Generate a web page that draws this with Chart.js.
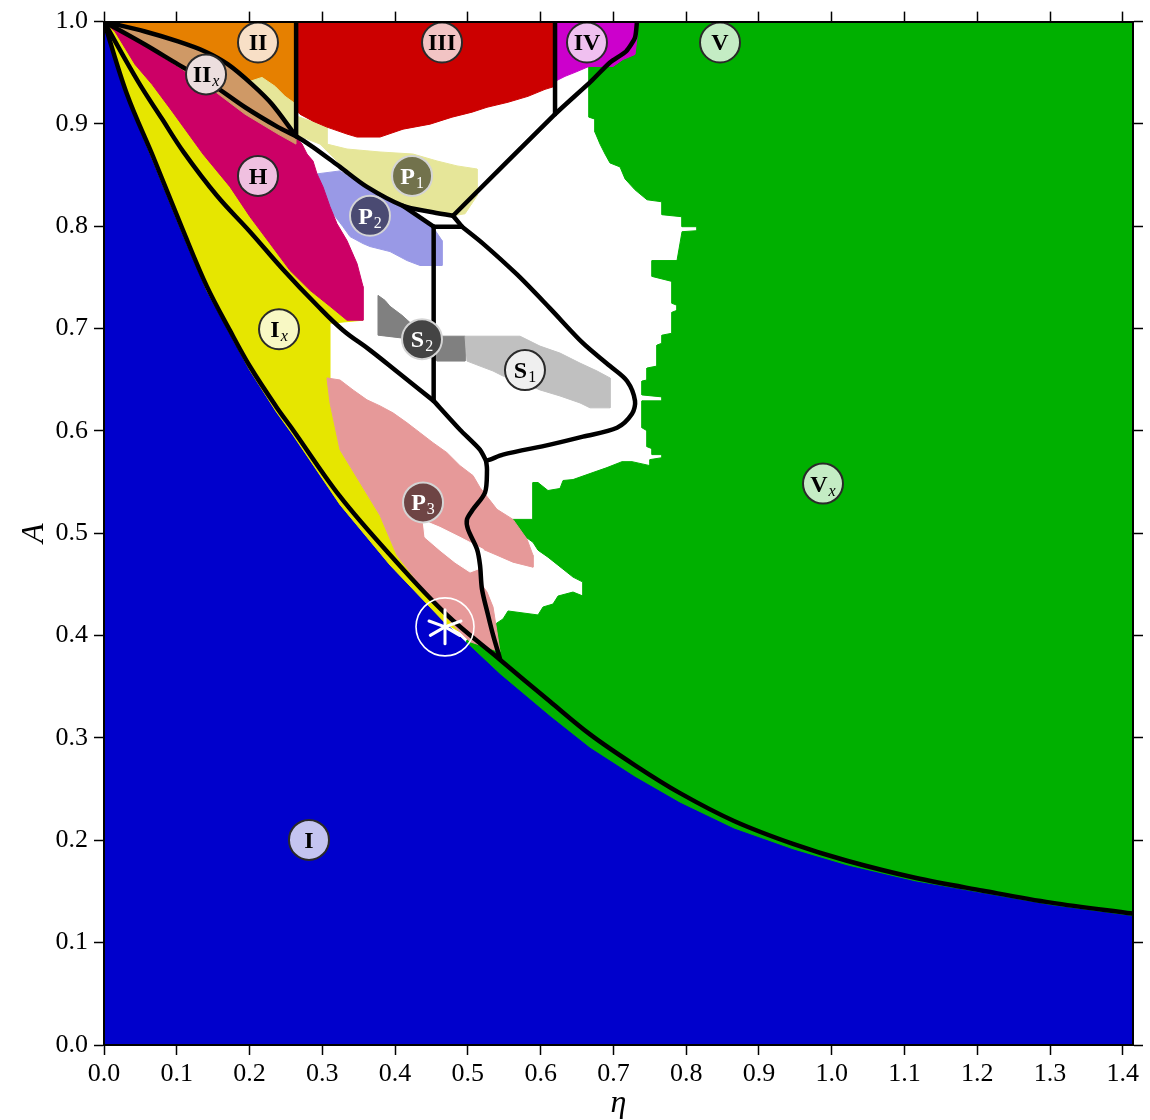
<!DOCTYPE html>
<html>
<head>
<meta charset="utf-8">
<script src="https://cdn.jsdelivr.net/npm/chart.js"></script>
<style>
  html, body { margin: 0; padding: 0; background: #fff; }
  #diagrama { display: block; }
</style>
</head>
<body>
<canvas id="diagrama" width="1150" height="1120"></canvas>
<script>
// Region outlines, [eta, A] pairs
const greenEdge = [[0.6665,1.0],[0.6665,0.9066],[0.6747,0.9047],[0.6747,0.892],[0.6816,0.8803],[0.6885,0.8706],[0.6953,0.8619],[0.7091,0.858],[0.716,0.8463],[0.7297,0.8356],[0.7462,0.8259],[0.7668,0.8239],[0.7668,0.8113],[0.7943,0.8093],[0.7943,0.7996],[0.8149,0.7996],[0.8149,0.7957],[0.7943,0.7947],[0.7874,0.7665],[0.7531,0.7665],[0.7531,0.751],[0.7805,0.7461],[0.7805,0.7247],[0.7874,0.7228],[0.7874,0.7179],[0.7805,0.716],[0.7805,0.6955],[0.7668,0.6936],[0.7668,0.6858],[0.7599,0.6839],[0.7599,0.6634],[0.7462,0.6615],[0.7462,0.6498],[0.7393,0.6488],[0.7393,0.6352],[0.7668,0.6333],[0.7668,0.6294],[0.7393,0.6294],[0.7393,0.6031],[0.7462,0.6002],[0.7462,0.5846],[0.7531,0.5827],[0.7531,0.5769],[0.7668,0.5769],[0.7668,0.5739],[0.7503,0.572],[0.7503,0.5661],[0.7256,0.57],[0.7118,0.57],[0.6912,0.5642],[0.6679,0.5584],[0.6445,0.5525],[0.6308,0.5516],[0.6266,0.5438],[0.6101,0.5418],[0.5964,0.5496],[0.5895,0.5496],[0.5895,0.5136],[0.562,0.5136],[0.562,0.5097],[0.5744,0.499],[0.5895,0.4912],[0.5964,0.4835],[0.6101,0.4767],[0.6239,0.4689],[0.6445,0.4572],[0.6582,0.4523],[0.6582,0.4387],[0.6445,0.4426],[0.6239,0.4387],[0.617,0.4309],[0.6033,0.428],[0.5964,0.4202],[0.5552,0.4241],[0.5483,0.4163],[0.54,0.4124],[0.5208,0.4008],[0.4988,0.3959],[0.4755,0.3356],[0.819,0.0],[1.414,0.0],[1.414,1.0]];

const blueTop = [[0,1.0],[0.0316,0.926],[0.0687,0.862],[0.1086,0.792],[0.1415,0.737],[0.1732,0.695],[0.2006,0.659],[0.2364,0.619],[0.2597,0.596],[0.3243,0.528],[0.393,0.469],[0.47,0.4115],[0.5442,0.362],[0.6129,0.321],[0.6679,0.29],[0.7297,0.2617],[0.7915,0.2364],[0.8657,0.2111],[0.9468,0.1907],[1.021,0.1751],[1.1145,0.1595],[1.2079,0.1479],[1.3014,0.1362],[1.414,0.1255]];

const yellowRight = [[0.4892,0.4037],[0.4521,0.4329],[0.4026,0.4786],[0.3793,0.5175],[0.3243,0.5817],[0.3106,0.6274],[0.3106,0.7053],[0.3559,0.7082],[0.2721,0.8803]];

const pinkEdge = [[0.3064,0.6518],[0.3243,0.6498],[0.3422,0.6401],[0.3614,0.6304],[0.3793,0.6245],[0.3971,0.6177],[0.4164,0.608],[0.4342,0.5983],[0.4521,0.5885],[0.4713,0.5788],[0.4892,0.5661],[0.5071,0.5564],[0.5167,0.5447],[0.54,0.5234],[0.562,0.5136],[0.5813,0.4942],[0.5895,0.4786],[0.5895,0.4669],[0.562,0.4718],[0.54,0.4786],[0.5208,0.4844],[0.5167,0.4523],[0.5263,0.4426],[0.5346,0.428],[0.54,0.4037],[0.5442,0.3842],[0.503,0.394],[0.4823,0.4086],[0.4521,0.4329],[0.4026,0.4786],[0.3793,0.5175],[0.3243,0.5817],[0.3106,0.6274]];

const whiteStreak = [[0.4384,0.5127],[0.4617,0.5058],[0.4892,0.4961],[0.5208,0.4844],[0.5208,0.4669],[0.503,0.4621],[0.4823,0.4718],[0.4617,0.4835],[0.4411,0.4961]];

const lavenderEdge = [[0.2927,0.8512],[0.3243,0.8541],[0.3614,0.8366],[0.4109,0.8181],[0.4535,0.7977],[0.4645,0.786],[0.4645,0.7617],[0.4342,0.7617],[0.4164,0.7665],[0.393,0.7753],[0.3655,0.7802],[0.3559,0.7831],[0.3381,0.7899],[0.3284,0.7996],[0.3147,0.8123],[0.3064,0.8249]];

const hEdge = [[0,1.0],[0.0563,0.9776],[0.1017,0.9582],[0.1484,0.9387],[0.1938,0.9163],[0.2391,0.8969],[0.2638,0.8872],[0.2721,0.8803],[0.279,0.8706],[0.2872,0.8638],[0.2927,0.8512],[0.301,0.8385],[0.3106,0.8191],[0.3202,0.8025],[0.3339,0.786],[0.3477,0.7636],[0.3559,0.7412],[0.3559,0.7082],[0.3339,0.7082],[0.3106,0.7218],[0.2831,0.7374],[0.2556,0.7568],[0.2281,0.7831],[0.2006,0.8093],[0.1732,0.8385],[0.136,0.8706],[0.0934,0.9125],[0.066,0.9387],[0.0426,0.9582],[0.0151,0.9903]];

const tanLower = [[0.2638,0.8803],[0.2391,0.8901],[0.1938,0.9095],[0.1484,0.9339],[0.1017,0.9562],[0.0563,0.9767]];

const khakiSmall = [[0.2006,0.9416],[0.2171,0.9455],[0.235,0.9368],[0.2487,0.927],[0.2638,0.9193],[0.2638,0.8891],[0.2419,0.9095],[0.2171,0.929]];

const khakiEdge = [[0.2652,0.9076],[0.3064,0.8969],[0.3064,0.8803],[0.3339,0.8755],[0.3793,0.8726],[0.4246,0.8706],[0.4576,0.8638],[0.4851,0.859],[0.5126,0.856],[0.5126,0.8298],[0.4961,0.8122],[0.4796,0.8103],[0.4109,0.82],[0.3614,0.8385],[0.3312,0.856],[0.3106,0.8706],[0.2968,0.8803],[0.2652,0.8891]];

const redEdge = [[0.2652,1.0],[0.6198,1.0],[0.6198,0.9368],[0.606,0.9338],[0.5827,0.927],[0.5552,0.9212],[0.5263,0.9163],[0.5057,0.9115],[0.4782,0.9066],[0.448,0.8998],[0.4109,0.8949],[0.3793,0.8872],[0.3477,0.8872],[0.3339,0.8901],[0.3064,0.8969],[0.2872,0.9027],[0.2693,0.9095],[0.2652,0.9125]];

const ivEdge = [[0.6198,1.0],[0.7324,1.0],[0.7324,0.9844],[0.7297,0.9679],[0.7132,0.963],[0.6995,0.9562],[0.6665,0.9562],[0.6473,0.9504],[0.6335,0.9465],[0.6198,0.9416]];

const s2Edge = [[0.3765,0.7325],[0.3861,0.7276],[0.393,0.7218],[0.4095,0.713],[0.4246,0.7033],[0.4439,0.6936],[0.4576,0.6926],[0.4961,0.6926],[0.4961,0.6683],[0.4576,0.6683],[0.4384,0.679],[0.4109,0.6907],[0.3765,0.6936]];

const s1Edge = [[0.4961,0.6926],[0.5717,0.6926],[0.5991,0.6829],[0.6266,0.6761],[0.6541,0.6663],[0.6775,0.6586],[0.6953,0.6518],[0.6953,0.6226],[0.6679,0.6226],[0.6541,0.6274],[0.6266,0.6342],[0.5991,0.6401],[0.5717,0.6488],[0.5483,0.6537],[0.5346,0.6586],[0.5167,0.6634],[0.4988,0.6683]];

// Boundary curves
const lineA = [[0,1.0],[0.0316,0.929],[0.0687,0.866],[0.1086,0.796],[0.1415,0.741],[0.1732,0.698],[0.2006,0.663],[0.2364,0.624],[0.2597,0.601],[0.3243,0.536],[0.393,0.479],[0.47,0.421],[0.5442,0.3765],[0.6129,0.3356],[0.6679,0.3035],[0.7297,0.2733],[0.7915,0.2461],[0.8657,0.2189],[0.9468,0.1965],[1.021,0.18],[1.1145,0.1634],[1.2079,0.1508],[1.3014,0.1391],[1.414,0.1284]];
const lineB = [[0,1.0],[0.0467,0.9416],[0.0797,0.905],[0.1099,0.872],[0.1553,0.8298],[0.2006,0.7947],[0.246,0.7578],[0.2927,0.7228],[0.3284,0.6984],[0.3655,0.679],[0.4068,0.6556],[0.453,0.6294]];
const lineC = [[0,1.0],[0.0563,0.9776],[0.1017,0.9582],[0.1484,0.9387],[0.1938,0.9163],[0.2391,0.8969],[0.264,0.888],[0.2872,0.8774],[0.3243,0.858],[0.3614,0.8385],[0.4109,0.82],[0.448,0.8142],[0.4796,0.8103]];
const lineD = [[0,1.0],[0.0563,0.9903],[0.1017,0.9806],[0.1388,0.9708],[0.1704,0.9582],[0.2034,0.9387],[0.2309,0.9193],[0.264,0.888]];
const branchP2 = [[0.4109,0.82],[0.453,0.7996]];
const vertP = [[0.453,0.7996],[0.453,0.6294]];
const shelf = [[0.453,0.7996],[0.492,0.7996]];
const joinTop = [[0.4796,0.8103],[0.492,0.7996]];
const loopS1 = [[0.492,0.7996],[0.5208,0.7831],[0.5675,0.7529],[0.6129,0.7198],[0.6582,0.6858],[0.6953,0.6634],[0.7187,0.6488],[0.7297,0.6294],[0.7256,0.6167],[0.705,0.6031],[0.6582,0.5944],[0.6129,0.5866],[0.5483,0.5769],[0.5305,0.572],[0.525,0.571]];
const midLink = [[0.453,0.6294],[0.4892,0.6012],[0.5167,0.5817],[0.525,0.571]];
const lowerLine = [[0.525,0.571],[0.5263,0.5623],[0.5236,0.5399],[0.5071,0.5234],[0.4988,0.5136],[0.5002,0.5039],[0.5126,0.4844],[0.5167,0.4689],[0.5194,0.4455],[0.5277,0.4202],[0.5346,0.4008],[0.5442,0.3774]];
const topRight = [[0.4796,0.8103],[0.6198,0.9095],[0.6692,0.9416],[0.6953,0.9601],[0.7173,0.9708],[0.7297,0.9844],[0.7324,1.0]];
const vertII = [[0.264,1.0],[0.264,0.888]];
const vertIV = [[0.6198,1.0],[0.6198,0.9095]];

// Region labels
const labelPos = [[0.2116,0.9796],[0.4645,0.9796],[0.6637,0.9796],[0.8465,0.9796],[0.1402,0.9484],[0.2116,0.8492],[0.4233,0.8492],[0.3655,0.8103],[0.2405,0.6994],[0.437,0.6897],[0.5785,0.6595],[0.4384,0.5302],[0.988,0.5486],[0.2817,0.2004]];
const labelMain = ['II','III','IV','V','II','H','P','P','I','S','S','P','V','I'];
const labelSub = ['','','','','x','','1','2','x','2','1','3','x',''];
const starPos = [[0.4686,0.4086]];

const etaTicks = [0,0.1,0.2,0.3,0.4,0.5,0.6,0.7,0.8,0.9,1.0,1.1,1.2,1.3,1.4];

const labelFill = ['#f8dfc6','#f2c4c4','#f0c0f0','#c4ecc4','#ecdede','#f0c0e0','#72724c','#4a4a72','#f8f8c4','#444444','#efefef','#6e4444','#c4ecc4','#c4c4f0'];
const labelDark = [false,false,false,false,false,false,true,true,false,true,false,true,false,false];

const serif = '"Liberation Serif", "DejaVu Serif", serif';
Chart.defaults.color = '#000';

function toXY(pts) { return pts.map(p => ({x: p[0], y: p[1]})); }

function region(pts, color) {
  return {
    data: toXY(pts.concat([pts[0]])),
    showLine: true, fill: 'shape', tension: 0,
    backgroundColor: color, borderColor: color, borderWidth: 1,
    pointRadius: 0, pointHoverRadius: 0
  };
}

function curve(pts, tension) {
  return {
    data: toXY(pts),
    showLine: true, fill: false, tension: tension || 0,
    borderColor: '#000', borderWidth: 4.5,
    borderCapStyle: 'round', borderJoinStyle: 'round',
    pointRadius: 0, pointHoverRadius: 0
  };
}

// painting order: first = bottom
const capas = [
  region(greenEdge, '#00b000'),
  region([[0,0]].concat(blueTop, [[1.414,0]]), '#0000cc'),
  region(blueTop.slice(0, 12).concat(yellowRight), '#e6e600'),
  region(pinkEdge, '#e69999'),
  region(whiteStreak, '#ffffff'),
  region(lavenderEdge, '#9999e6'),
  region(hEdge, '#cc0066'),
  region([[0,1.0],[0.264,1.0]].concat(lineD.slice().reverse()), '#e68000'),
  region(lineD.concat(tanLower), '#cf9966'),
  region(khakiSmall, '#e6e699'),
  region(khakiEdge, '#e6e699'),
  region(redEdge, '#cc0000'),
  region(ivEdge, '#cc00cc'),
  region(s2Edge, '#808080'),
  region(s1Edge, '#c0c0c0'),
  curve(lineA, 0.35),
  curve(lineB, 0.4),
  curve(lineC, 0.3),
  curve(lineD, 0.3),
  curve(branchP2),
  curve(vertP),
  curve(shelf),
  curve(joinTop),
  curve(loopS1, 0.3),
  curve(midLink, 0.2),
  curve(lowerLine, 0.3),
  curve(topRight, 0.2),
  curve(vertII),
  curve(vertIV),
  {
    data: toXY(labelPos), showLine: false,
    pointRadius: 20, pointHoverRadius: 20, pointBorderWidth: 2,
    pointBackgroundColor: labelFill,
    pointBorderColor: labelDark.map(d => d ? '#d4d4d4' : '#2a2a2a')
  },
  {
    data: toXY(starPos), showLine: false,
    pointRadius: 29, pointHoverRadius: 29, pointBorderWidth: 1.6,
    pointBackgroundColor: 'rgba(0,0,0,0)', pointBorderColor: '#ffffff'
  }
];
capas.forEach((d, i) => { d.order = capas.length - i; });

// texto de las etiquetas y el asterisco
const etiquetas = {
  id: 'etiquetas',
  afterDatasetsDraw(chart) {
    const {ctx, scales: {x, y}} = chart;
    ctx.save();
    ctx.textAlign = 'left';
    ctx.textBaseline = 'alphabetic';
    labelPos.forEach((p, i) => {
      const px = x.getPixelForValue(p[0]);
      const py = y.getPixelForValue(p[1]);
      const mainFont = 'bold 24px ' + serif;
      const subFont = (labelSub[i] === 'x' ? 'italic ' : '') + '16px ' + serif;
      ctx.font = mainFont;
      const w1 = ctx.measureText(labelMain[i]).width;
      ctx.font = subFont;
      const w2 = labelSub[i] ? ctx.measureText(labelSub[i]).width + 1 : 0;
      const left = px - (w1 + w2) / 2;
      ctx.fillStyle = labelDark[i] ? '#ffffff' : '#000000';
      ctx.font = mainFont;
      ctx.fillText(labelMain[i], left, py + 8);
      if (labelSub[i]) {
        ctx.font = subFont;
        ctx.fillText(labelSub[i], left + w1 + 1, py + 12);
      }
    });
    starPos.forEach(p => {
      const px = x.getPixelForValue(p[0]);
      const py = y.getPixelForValue(p[1]);
      ctx.strokeStyle = '#ffffff';
      ctx.lineWidth = 3;
      ctx.lineCap = 'round';
      [-90, -20, 30, 90, 150, 200].forEach(a => {
        const r = a * Math.PI / 180;
        ctx.beginPath();
        ctx.moveTo(px, py);
        ctx.lineTo(px + 17 * Math.cos(r), py + 17 * Math.sin(r));
        ctx.stroke();
      });
    });
    ctx.restore();
  }
};

const ejeComun = {
  type: 'linear',
  grid: { drawOnChartArea: false, color: '#000', tickColor: '#000', tickLength: 10, tickWidth: 1.5 },
  border: { color: '#000', width: 2, z: 1 }
};

new Chart(document.getElementById('diagrama'), {
  type: 'scatter',
  data: { datasets: capas },
  plugins: [etiquetas],
  options: {
    responsive: false,
    animation: false,
    events: [],
    layout: { padding: 0, autoPadding: false },
    plugins: { legend: { display: false }, tooltip: { enabled: false } },
    scales: {
      x: Object.assign({}, ejeComun, {
        position: 'bottom', min: 0, max: 1.414,
        afterBuildTicks: s => { s.ticks = etaTicks.map(v => ({value: v})); },
        ticks: { padding: 4, maxRotation: 0, autoSkip: false,
                 font: { family: serif, size: 26 }, color: '#000',
                 callback: v => Number(v).toFixed(1) },
        title: { display: true, text: 'η', color: '#000',
                 font: { family: serif, size: 32, style: 'italic', lineHeight: 1 },
                 padding: { top: 0, bottom: 0 } },
        afterFit: s => { s.height = 75; }
      }),
      x2: Object.assign({}, ejeComun, {
        position: 'top', min: 0, max: 1.414,
        afterBuildTicks: s => { s.ticks = etaTicks.map(v => ({value: v})); },
        ticks: { display: false },
        afterFit: s => { s.height = 17; }
      }),
      y: Object.assign({}, ejeComun, {
        position: 'left', min: 0, max: 1,
        ticks: { stepSize: 0.1, padding: 6, font: { family: serif, size: 26 }, color: '#000',
                 callback: v => Number(v).toFixed(1) },
        title: { display: true, text: 'A', color: '#000',
                 font: { family: serif, size: 32, style: 'italic', lineHeight: 1 },
                 padding: { top: 19, bottom: 0 } },
        afterFit: s => { s.width = 104; }
      }),
      y2: Object.assign({}, ejeComun, {
        position: 'right', min: 0, max: 1,
        ticks: { display: false, stepSize: 0.1 },
        afterFit: s => { s.width = 17; }
      })
    }
  }
});
</script>
</body>
</html>
